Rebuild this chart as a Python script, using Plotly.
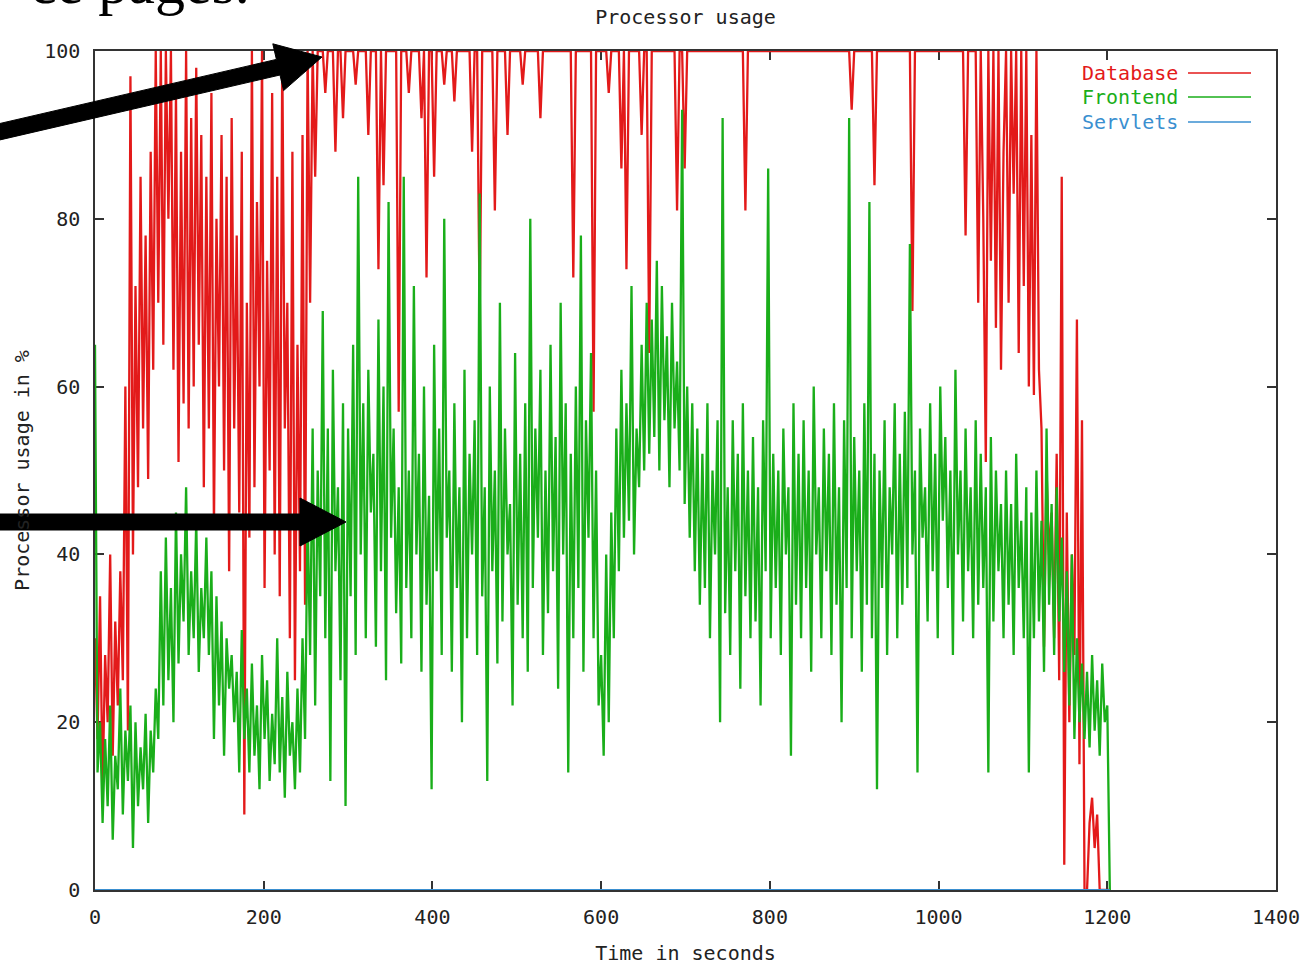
import plotly.graph_objects as go

# ---------------- data (one sample every 3 s) ----------------
times = list(range(0, 1204, 3))

frontend = [
    65, 14, 20, 8, 18, 10, 22, 6, 16, 12,
    24, 9, 19, 13, 22, 5, 20, 10, 17, 12,
    21, 8, 19, 14, 24, 18, 38, 22, 42, 25,
    36, 20, 45, 27, 40, 32, 48, 28, 38, 30,
    44, 26, 36, 30, 42, 28, 38, 18, 35, 22,
    32, 16, 30, 24, 28, 20, 26, 14, 31, 18,
    24, 14, 27, 16, 22, 12, 28, 18, 25, 13,
    21, 15, 30, 14, 23, 11, 26, 16, 20, 12,
    24, 14, 30, 18, 45, 28, 55, 22, 50, 35,
    69, 30, 55, 13, 62, 38, 48, 25, 58, 10,
    55, 35, 65, 28, 85, 40, 58, 30, 62, 45,
    52, 29, 68, 38, 60, 25, 82, 42, 55, 33,
    48, 27, 85, 36, 50, 30, 72, 40, 52, 26,
    60, 34, 47, 12, 65, 38, 55, 28, 80, 42,
    50, 26, 58, 36, 48, 20, 62, 30, 52, 40,
    56, 28, 83, 35, 48, 13, 60, 38, 50, 27,
    70, 32, 55, 40, 46, 22, 64, 34, 52, 30,
    58, 26, 80, 36, 55, 42, 62, 28, 50, 33,
    65, 38, 54, 24, 70, 40, 58, 14, 52, 30,
    60, 36, 78, 26, 56, 42, 64, 30, 50, 22,
    28, 16, 40, 20, 45, 30, 55, 38, 62, 42,
    58, 44, 72, 40, 55, 48, 65, 50, 70, 52,
    68, 54, 75, 50, 72, 56, 66, 48, 70, 55,
    63, 50, 93, 46, 60, 42, 58, 38, 55, 34,
    52, 36, 58, 30, 50, 40, 56, 20, 92, 33,
    48, 28, 56, 38, 52, 24, 58, 35, 50, 30,
    54, 32, 48, 22, 56, 38, 86, 30, 52, 36,
    50, 28, 55, 40, 48, 16, 58, 34, 52, 30,
    56, 36, 50, 26, 60, 40, 48, 30, 55, 38,
    52, 28, 58, 34, 48, 20, 56, 36, 92, 30,
    54, 38, 50, 26, 58, 34, 82, 30, 52, 12,
    50, 36, 56, 28, 48, 40, 58, 30, 52, 34,
    57, 36, 77, 40, 50, 14, 55, 42, 48, 32,
    58, 38, 52, 30, 60, 44, 54, 36, 50, 28,
    62, 40, 50, 32, 55, 38, 48, 30, 56, 34,
    52, 36, 48, 14, 54, 32, 50, 38, 46, 30,
    50, 34, 46, 28, 52, 36, 44, 30, 48, 14,
    45, 30, 50, 32, 44, 26, 55, 34, 46, 28,
    48, 32, 42, 26, 38, 22, 40, 18, 30, 20,
    27, 18, 26, 17, 28, 19, 25, 16, 27, 20,
    22, 0,
]

database = [
    30, 18, 35, 12, 28, 20, 40, 16, 32, 22,
    38, 25, 60, 19, 97, 40, 72, 48, 85, 55,
    78, 49, 88, 62, 100, 70, 100, 65, 100, 80,
    100, 62, 95, 51, 88, 58, 100, 55, 92, 60,
    98, 65, 90, 48, 85, 55, 95, 43, 80, 60,
    90, 50, 85, 38, 92, 55, 78, 45, 88, 9,
    70, 42, 100, 48, 82, 60, 100, 36, 75, 50,
    95, 40, 85, 35, 100, 55, 70, 30, 88, 25,
    65, 38, 90, 34, 100, 70, 100, 85, 100, 100,
    100, 95, 100, 100, 100, 88, 100, 100, 92, 100,
    100, 100, 100, 96, 100, 100, 100, 100, 90, 100,
    100, 100, 74, 100, 84, 100, 100, 100, 100, 100,
    57, 100, 100, 100, 95, 100, 100, 100, 100, 92,
    100, 73, 100, 100, 85, 100, 100, 100, 96, 100,
    100, 100, 94, 100, 100, 100, 100, 100, 100, 88,
    100, 100, 68, 100, 100, 100, 100, 100, 81, 100,
    100, 100, 100, 90, 100, 100, 100, 100, 100, 96,
    100, 100, 100, 100, 100, 100, 92, 100, 100, 100,
    100, 100, 100, 100, 100, 100, 100, 100, 100, 73,
    100, 100, 100, 100, 100, 100, 100, 57, 100, 100,
    100, 100, 100, 95, 100, 100, 100, 100, 86, 100,
    74, 100, 100, 100, 100, 100, 90, 100, 100, 64,
    100, 100, 100, 100, 100, 100, 100, 100, 100, 100,
    81, 100, 100, 86, 100, 100, 100, 100, 100, 100,
    100, 100, 100, 100, 100, 100, 100, 100, 100, 100,
    100, 100, 100, 100, 100, 100, 100, 81, 100, 100,
    100, 100, 100, 100, 100, 100, 100, 100, 100, 100,
    100, 100, 100, 100, 100, 100, 100, 100, 100, 100,
    100, 100, 100, 100, 100, 100, 100, 100, 100, 100,
    100, 100, 100, 100, 100, 100, 100, 100, 100, 93,
    100, 100, 100, 100, 100, 100, 100, 100, 84, 100,
    100, 100, 100, 100, 100, 100, 100, 100, 100, 100,
    100, 100, 100, 69, 100, 100, 100, 100, 100, 100,
    100, 100, 100, 100, 100, 100, 100, 100, 100, 100,
    100, 100, 100, 100, 78, 100, 100, 100, 100, 70,
    100, 80, 51, 100, 75, 100, 67, 100, 62, 88,
    100, 70, 100, 83, 100, 64, 100, 72, 100, 60,
    90, 59, 100, 62, 55, 29, 50, 40, 45, 30,
    52, 25, 85, 3, 45, 20, 40, 28, 68, 15,
    56, 0, 0, 8, 11, 5, 9, 0, 0, 0,
    0, 0,
]

servlet_times = [0, 1203]
servlets = [0, 0]

series_names = ["Database", "Frontend", "Servlets"]
series_colors = ["#e31a1a", "#1aae1a", "#3a8fd0"]

x_ticks = [0, 200, 400, 600, 800, 1000, 1200, 1400]
y_ticks = [0, 20, 40, 60, 80, 100]

# ---------------- layout geometry (pixels) ----------------
W, H = 1309, 965
L, R, T, B = 95, 1276, 51, 890
FONT = "DejaVu Sans Mono"
TXT = "#222222"


def px(x, y):
    return (x - L) / (R - L), (B - y) / (B - T)


fig = go.Figure()
fig.add_trace(go.Scatter(x=times, y=database, name=series_names[0], mode="lines",
                         line=dict(color=series_colors[0], width=2.3), cliponaxis=False))
fig.add_trace(go.Scatter(x=times, y=frontend, name=series_names[1], mode="lines",
                         line=dict(color=series_colors[1], width=2.3), cliponaxis=False))
fig.add_trace(go.Scatter(x=servlet_times, y=servlets, name=series_names[2], mode="lines",
                         line=dict(color=series_colors[2], width=1.8), cliponaxis=False))

axis_common = dict(showgrid=False, zeroline=False, showline=True, linecolor="#333333",
                   linewidth=1.5, ticks="inside", ticklen=9, tickwidth=1.5,
                   tickcolor="#333333", mirror="allticks", layer="below traces",
                   tickfont=dict(family=FONT, size=20, color=TXT))

fig.update_xaxes(range=[0, 1400], tickvals=x_ticks, ticktext=[str(v) for v in x_ticks],
                 ticklabelstandoff=8,
                 title=dict(text="Time in seconds", font=dict(family=FONT, size=20, color=TXT),
                            standoff=18),
                 **axis_common)
fig.update_yaxes(range=[0, 100], tickvals=y_ticks, ticktext=[str(v) for v in y_ticks],
                 ticklabelstandoff=9,
                 title=dict(text="Processor usage in %", font=dict(family=FONT, size=20, color=TXT),
                            standoff=9),
                 **axis_common)

annotations = []
shapes = []

# gnuplot-style legend: label right-aligned, line sample to the right
legend_y = [73, 97, 122]
for name, color, yy in zip(series_names, series_colors, legend_y):
    ax_, ay_ = px(1180, yy)
    annotations.append(dict(x=ax_, y=ay_, xref="paper", yref="paper", text=name,
                            showarrow=False, xanchor="right", yanchor="middle",
                            font=dict(family=FONT, size=20, color=color)))
    x0, y0 = px(1188, yy)
    x1, _ = px(1251, yy)
    shapes.append(dict(type="line", xref="paper", yref="paper", x0=x0, x1=x1, y0=y0, y1=y0,
                       line=dict(color=color, width=1.5)))

# clipped slide text at top-left
tx, ty = px(252, -17)
annotations.append(dict(x=tx, y=ty, xref="paper", yref="paper", text="ce pages.",
                        showarrow=False, xanchor="right", yanchor="middle",
                        font=dict(family="Liberation Serif", size=60, color="#000000")))


def poly(points):
    pts = [px(x, y) for x, y in points]
    d = "M " + " L ".join(f"{a:.5f},{b:.5f}" for a, b in pts) + " Z"
    return dict(type="path", xref="paper", yref="paper", path=d,
                fillcolor="#000000", line=dict(color="#000000", width=1), layer="above")


# arrow 1 (slanted, pointing to the red line at 100 %)
shapes.append(poly([(-8.2, 141.8), (280.0, 75.0), (283.6, 90.6), (322.0, 57.0),
                    (272.8, 43.8), (276.4, 59.4), (-11.8, 126.2)]))
# arrow 2 (horizontal, pointing to the green band)
shapes.append(poly([(-10, 530), (300, 530), (300, 546), (346, 522),
                    (300, 498), (300, 514), (-10, 514)]))

fig.update_layout(
    width=W, height=H,
    margin=dict(l=L, r=W - R, t=T, b=H - B, autoexpand=False),
    paper_bgcolor="white", plot_bgcolor="white",
    showlegend=False,
    title=dict(text="Processor usage", x=(L + R) / 2 / W, xanchor="center",
               y=1 - 17 / H, yanchor="middle",
               font=dict(family=FONT, size=20, color=TXT)),
    annotations=annotations,
    shapes=shapes,
)

fig.write_html("out.html", config={"displayModeBar": False},
               post_script="document.body.style.margin='0px';document.body.style.overflow='hidden';")
